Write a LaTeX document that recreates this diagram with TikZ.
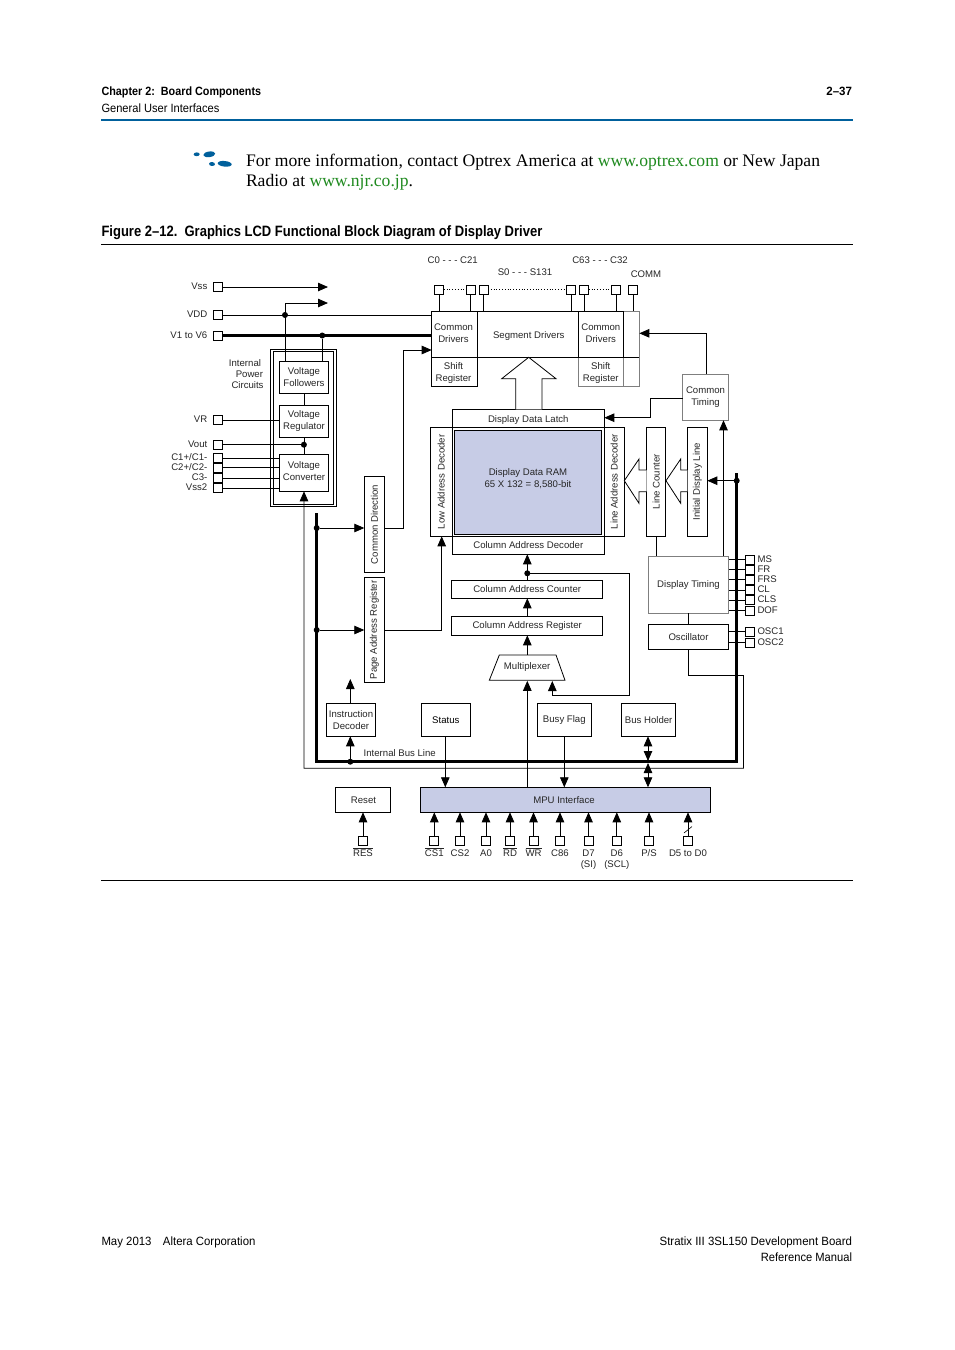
\documentclass[tikz,border=0pt]{standalone}
\usepackage{fontspec}
\setmainfont{Liberation Sans}
\newfontfamily\bodyfont{Liberation Serif}
\usetikzlibrary{arrows.meta,calc}
\definecolor{ink}{HTML}{262626}
\definecolor{ramblue}{HTML}{C7CCE6}
\definecolor{headblue}{HTML}{00609C}
\definecolor{linkgreen}{HTML}{1F8A1F}
\definecolor{edgegray}{HTML}{7F7F7F}
\tikzset{
 lcdbox/.style={draw=black,line width=.8pt,inner sep=0pt,outer sep=0pt,align=center,text=ink,font=\fontsize{9.6}{12}\selectfont},
 pinbox/.style={draw=black,line width=.8pt,fill=white,minimum size=9pt,inner sep=0pt,outer sep=0pt},
 wire/.style={line width=.8pt,draw=black},
 arr/.style={wire,-{Triangle[length=10pt,width=8.5pt]}},
 arrboth/.style={wire,{Triangle[length=10pt,width=8.5pt]}-{Triangle[length=10pt,width=8.5pt]}},
 bus/.style={line width=3pt,draw=black,line join=miter},
 jdot/.style={circle,fill=black,minimum size=6pt,inner sep=0pt,outer sep=0pt},
 lbl/.style={inner sep=0pt,outer sep=0pt,text=ink,font=\fontsize{9.6}{11.6}\selectfont,align=center},
 hollow/.style={draw=black,line width=.8pt,fill=white,line join=miter},
 hdr/.style={inner sep=0pt,outer sep=0pt,text=black},
}
\newcommand\bx[7][]{%
 \pgfmathsetmacro\myw{#5-#3}\pgfmathsetmacro\myh{#6-#4}%
 \pgfmathsetmacro\mycx{(#5+#3)/2}\pgfmathsetmacro\mycy{(#6+#4)/2}%
 \node[lcdbox,minimum width=\myw pt,minimum height=\myh pt,#1] (#2) at (\mycx,\mycy) {#7};}
\newcommand\vt[1]{\rotatebox{90}{#1}}
\newcommand\ol[1]{$\overline{\mbox{#1}}$}
% text lowered (or, with a negative amount, raised) without changing its box
\newcommand\dn[2]{\raisebox{-#1pt}[\height][\depth]{#2}}
\newcommand\dl[3]{\raisebox{-#1pt}[\height][\depth]{\begin{tabular}{@{}c@{}}#2\\#3\end{tabular}}}
\begin{document}
\begin{tikzpicture}[x=1pt,y=-1pt]
\useasboundingbox (0,0) rectangle (954,1350);
\fill[white] (0,0) rectangle (954,1350);
% page furniture
\node[hdr,anchor=base west] (hChap) at (101.5,95) {\fontsize{12}{14}\selectfont\bfseries\scalebox{.9}[1]{Chapter 2:\ \ Board Components}};
\node[hdr,anchor=base west] (hGen) at (101.5,112) {\fontsize{12}{14}\selectfont\scalebox{.925}[1]{General User Interfaces}};
\node[hdr,anchor=base east] (hPage) at (852,95) {\fontsize{12}{14}\selectfont\bfseries\scalebox{.96}[1]{2--37}};
\draw[headblue,line width=2pt] (101,120) -- (853,120);
\foreach \x/\y/\rx/\ry/\a in {196.7/154.3/3/1.9/0,209.3/154.3/6/2.8/8,212/164/3/2/-5,224.7/163.8/7/2.8/-6}
  \fill[headblue,rotate around={\a:(\x,\y)}] (\x,\y) ellipse ({\rx} and {\ry});
\node[hdr,anchor=base west] (bodyA) at (246,166) {\bodyfont\fontsize{17.6}{20}\selectfont For more information, contact Optrex America at \textcolor{linkgreen}{www.optrex.com} or New Japan};
\node[hdr,anchor=base west] (bodyB) at (246,186) {\bodyfont\fontsize{17.6}{20}\selectfont Radio at \textcolor{linkgreen}{www.njr.co.jp}.};
\node[hdr,anchor=base west] (figT) at (101.5,236) {\fontsize{15}{18}\selectfont\bfseries\scalebox{.867}[1]{Figure 2--12.\ \ Graphics LCD Functional Block Diagram of Display Driver}};
\draw[black,line width=.8pt] (101,244.5) -- (853,244.5);
\draw[black,line width=.8pt] (101,880.5) -- (853,880.5);
\node[hdr,anchor=base west] (fL) at (101.5,1245) {\fontsize{12}{14}\selectfont\scalebox{.95}[1]{May 2013\quad Altera Corporation}};
\node[hdr,anchor=base east] (fR1) at (852,1245) {\fontsize{12}{14}\selectfont\scalebox{.955}[1]{Stratix III 3SL150 Development Board}};
\node[hdr,anchor=base east] (fR2) at (852,1261) {\fontsize{12}{14}\selectfont\scalebox{.93}[1]{Reference Manual}};

% power block
\bx{pwrOuter}{270.3}{349}{336.7}{506.7}{}
\bx{pwrInner}{273.3}{351.3}{333.7}{504.7}{}
\bx{vf}{279.3}{361}{328.7}{393.7}{Voltage\\Followers}
\bx{vreg}{279.3}{405.3}{328.7}{437.3}{\dl{0}{Voltage}{Regulator}}
\bx{vc}{279.3}{454.3}{328.7}{491.3}{\dl{-1}{Voltage}{Converter}}
% drivers
\bx{cdL}{431.7}{311.3}{477.3}{357.3}{\hspace*{-2pt}\dl{0}{Common}{Drivers}}
\bx{srL}{431.7}{357.3}{477.3}{386.3}{\hspace*{-2pt}\dl{1}{Shift}{Register}}
\bx{seg}{477.3}{311.3}{578.3}{357.3}{\hspace*{2pt}\dn{1.5}{Segment Drivers}}
\bx[draw=edgegray]{srR}{578.3}{357.3}{623.3}{386.3}{\dl{1}{Shift}{Register}}
\bx[draw=edgegray]{extTop}{623.3}{311.3}{639.3}{357.3}{}
\bx[draw=edgegray]{extBot}{623.3}{357.3}{639.3}{386.3}{}
\bx{cdR}{578.3}{311.3}{623.3}{357.3}{\dl{0}{Common}{Drivers}}
% memory
\bx{latch}{452.3}{409.3}{604.3}{427.3}{\dn{1.5}{Display Data Latch}}
\bx{lowDec}{430.3}{427.3}{452.3}{536.3}{\vt{Low Address Decoder}}
\bx{lineDec}{604.3}{427.3}{624.3}{536.3}{\vt{Line Address Decoder}}
\bx[fill=ramblue]{ram}{454.3}{430.3}{601.7}{534.3}{\dl{-3}{Display Data RAM}{65 X 132 = 8,580-bit}}
\bx{colDec}{452.3}{536.3}{604.3}{554.3}{Column Address Decoder}
\bx{lineCnt}{646.7}{427.3}{665.7}{536.3}{\vt{Line Counter}}
\bx{initLine}{687.3}{427.3}{707.3}{536.3}{\vt{Initial Display Line}}
\bx[draw=edgegray,line width=1pt]{cTim}{682.7}{374}{728.3}{420.3}{Common\\Timing}
\bx[draw=edgegray,line width=1pt]{dTim}{648.3}{556}{728.7}{613.3}{Display Timing}
\bx{osc}{648.3}{624.3}{728.7}{649.3}{Oscillator}
\bx{comDir}{364.3}{476.3}{384.7}{572.7}{\vt{Common Direction}}
\bx{pageReg}{364.3}{577.3}{384.7}{682.3}{\vt{Page Address Register}}
\bx{colCnt}{451.7}{580.3}{602.7}{598.3}{Column Address Counter}
\bx{colReg}{451.7}{616.3}{602.7}{635.3}{Column Address Register}
\node[lcdbox,draw=none] (mux) at (527.2,667) {Multiplexer};
\draw[wire] (499.3,655) -- (556,655) -- (565,680.3) -- (489.3,680.3) -- cycle;
\bx{instr}{326.3}{703.3}{375.7}{736.3}{Instruction\\Decoder}
\bx[text=black]{status}{421.3}{703.3}{470.3}{736.3}{Status}
\bx{busy}{537.3}{703.3}{591.3}{736.3}{Busy Flag}
\bx{holder}{621.7}{703.3}{675.7}{736.3}{Bus Holder}
\bx[fill=ramblue]{mpu}{420.7}{787.3}{710.3}{812.3}{\hspace*{-3pt}MPU Interface}
\bx{reset}{335.3}{787.3}{390.7}{812.3}{\hspace*{1pt}Reset}
\draw[wire] (cdR.south west) -- (extTop.south east);
\draw[line width=1.4pt] (colDec.north east) -- (colDec.south east) -- (colDec.south west);

% left pins
\foreach \n/\y in {pVss/287,pVdd/315,pV16/335.5,pVR/420,pVout/444.7,pC1/458,pC2/467.7,pC3/478.3,pVs2/488}
  \node[pinbox] (\n) at (218,\y) {};
\coordinate (jVddTop) at (285,303);
\coordinate (aVssEnd) at (328,287);
\coordinate (aTopEnd) at (328,303);
\draw[arr] (pVss.east) -- (aVssEnd);
\draw[wire] (pVdd.east) -- (pVdd.east -| cdL.west);
\node[jdot] (jVdd) at (285,315) {};
\draw[arr] (vf.north -| jVdd) -- (jVddTop) -- (aTopEnd);
\draw[bus] (pV16.east) -- (pV16.east -| cdL.west);
\node[jdot] (jV16) at (322.3,335.5) {};
\draw[wire] (jV16) -- (jV16 |- vf.north);
\draw[wire] (pVR.east) -- (pVR.east -| vreg.west);
\draw[wire] (vf.south) -- (vreg.north);
\draw[wire] (vreg.south) -- (vc.north);
\node[jdot] (jVout) at (303.9,444.7) {};
\draw[wire] (pVout.east) -- (jVout);
\draw[wire] (pC1.east) -- (pC1.east -| vc.west);
\draw[wire] (pC2.east) -- (pC2.east -| vc.west);
\draw[wire] (pC3.east) -- (pC3.east -| vc.west);
\draw[wire] (pVs2.east) -- (pVs2.east -| vc.west);
% left labels
\node[lbl,anchor=east] (lVss) at (207.3,286) {Vss};
\node[lbl,anchor=east] (lVdd) at (207.3,314) {VDD};
\node[lbl,anchor=east] (lV16) at (207.3,335) {V1 to V6};
\node[lbl,anchor=east] (lVR) at (207.3,419) {VR};
\node[lbl,anchor=east] (lVout) at (207.3,444) {Vout};
\node[lbl,anchor=east] (lC1) at (207.3,456.7) {C1+/C1-};
\node[lbl,anchor=east] (lC2) at (207.3,466.7) {C2+/C2-};
\node[lbl,anchor=east] (lC3) at (207.3,477) {C3-};
\node[lbl,anchor=east] (lVs2) at (207.3,487) {Vss2};
\node[lbl,anchor=east] (lInt) at (261,363) {Internal};
\node[lbl,anchor=east] (lPow) at (263,374) {Power};
\node[lbl,anchor=east] (lCir) at (263.5,385) {Circuits};

% top pins
\foreach \n/\x in {tA/439.2,tB/470.8,tC/483.5,tD/571.2,tE/584.3,tF/616.2,tG/633}
  \node[pinbox] (\n) at (\x,289.7) {};
\draw[wire] (tA.south) -- (tA.south |- cdL.north);
\draw[wire] (tB.south) -- (tB.south |- cdL.north);
\draw[wire] (tC.south) -- (tC.south |- seg.north);
\draw[wire] (tD.south) -- (tD.south |- seg.north);
\draw[wire] (tE.south) -- (tE.south |- cdR.north);
\draw[wire] (tF.south) -- (tF.south |- cdR.north);
\draw[wire] (tG.south) -- (tG.south |- extTop.north);
\draw[wire,dotted] (tA.east) -- (tB.west);
\draw[wire,dotted] (tC.east) -- (tD.west);
\draw[wire,dotted] (tE.east) -- (tF.west);
\node[lbl] (lC0) at (452.7,260) {C0 - - - C21};
\node[lbl] (lS0) at (525,272) {S0 - - - S131};
\node[lbl] (lC63) at (600,260) {C63 - - - C32};
\node[lbl] (lComm) at (646,274) {COMM};

% hollow arrows
\draw[hollow] (515.7,409.3) -- (515.7,378.7) -- (501.7,378.7) -- (528.7,357.3) -- (556,378.7) -- (542,378.7) -- (542,409.3);
\draw[hollow] (646.7,470) -- (639,470) -- (639,459) -- (624.3,480.7) -- (639,503.3) -- (639,491.7) -- (646.7,491.7);
\draw[hollow] (687.3,470) -- (680.7,470) -- (680.7,459) -- (666,480.7) -- (680.7,503.3) -- (680.7,491.7) -- (687.3,491.7);

% timing
\coordinate (ctUp) at (706.7,333.3);
\coordinate (ctKnee1) at (650.7,398.3);
\coordinate (ctKnee2) at (650.7,417.7);
\draw[arr] (ctUp |- cTim.north) -- (ctUp) -- (ctUp -| extTop.east);
\draw[arr] (cTim.west |- ctKnee1) -- (ctKnee1) -- (ctKnee2) -- (ctKnee2 -| latch.east);
\coordinate (dtUp) at (723.5,556);
\draw[arr] (dtUp) -- (dtUp |- cTim.south);
\draw[wire] (lineCnt.south -| 656.3,0) -- (dTim.north -| 656.3,0);
\draw[wire] (dTim.south) -- (osc.north);

% bus and power return
\coordinate (retA) at (743.5,675.5);
\coordinate (retB) at (743.5,768.3);
\coordinate (retC) at (303.9,768.3);
\draw[arr] (osc.south) -- (osc.south |- retA) -- (retA) -- (retB) -- (retC) -- (vc.south);
\coordinate (busA) at (316.7,513);
\coordinate (busB) at (316.7,761.7);
\coordinate (busC) at (736.7,761.7);
\coordinate (busD) at (736.7,472.5);
\draw[bus] (busA) -- (busB) -- (busC) -- (busD);
\node[jdot] (jCom) at (316.7,528) {};
\node[jdot] (jPage) at (316.7,630) {};
\node[jdot] (jInstr) at (350.3,761.7) {};
\node[jdot] (jInit) at (736.7,480.7) {};
\draw[arr] (jCom) -- (jCom -| comDir.west);
\draw[arr] (jPage) -- (jPage -| pageReg.west);
\draw[arr] (jInit) -- (jInit -| initLine.east);
\coordinate (cdOut) at (403.7,528);
\coordinate (cdUp) at (403.7,350);
\draw[arr] (comDir.east |- cdOut) -- (cdOut) -- (cdUp) -- (cdUp -| cdL.west);
\coordinate (prOut) at (441.7,630);
\draw[arr] (pageReg.east |- prOut) -- (prOut) -- (prOut |- lowDec.south);
\node[lbl,anchor=west] (lBus) at (363.7,752.7) {Internal Bus Line};
\draw[arr] (jInstr) -- (jInstr |- instr.south);
\coordinate (instrTip) at (350.3,679);
\draw[arr] (instr.north -| instrTip) -- (instrTip);

% column path
\coordinate (muxTop) at (527.3,655);
\coordinate (muxBot) at (527.3,680.8);
\coordinate (muxTipR) at (552.3,681);
\node[jdot] (jCol) at (527.3,573.3) {};
\coordinate (loopA) at (629.7,573.3);
\coordinate (loopB) at (629.7,695);
\coordinate (loopC) at (552.3,695);
\draw[arr] (muxTop) -- (muxTop |- colReg.south);
\draw[arr] (colReg.north -| muxTop) -- (muxTop |- colCnt.south);
\draw[arr] (colCnt.north -| muxTop) -- (muxTop |- colDec.south);
\draw[arr] (jCol) -- (loopA) -- (loopB) -- (loopC) -- (muxTipR);
\draw[arr] (mpu.north -| muxBot) -- (muxBot);
\draw[arr] (status.south -| 445.3,0) -- (mpu.north -| 445.3,0);
\draw[arr] (busy.south -| 564.3,0) -- (mpu.north -| 564.3,0);
\coordinate (hBusU) at (648,761);
\coordinate (hBusL) at (648,763);
\draw[arrboth] (holder.south -| hBusU) -- (hBusU);
\draw[arrboth] (hBusL) -- (mpu.north -| hBusL);

% right pins
\foreach \n/\y/\t in {rMS/559.7/MS,rFR/569.5/FR,rFRS/579.7/FRS,rCL/590/CL,rCLS/600/CLS,rDOF/610.8/DOF,rOS1/631.8/OSC1,rOS2/642.8/OSC2}{
  \node[pinbox] (\n) at (750.2,\y) {};
  \node[lbl,anchor=west] (l\n) at (757.5,\y-.7) {\t};
}
\foreach \n in {rMS,rFR,rFRS,rCL,rCLS,rDOF}
  \draw[wire] (\n.west) -- (\n.west -| dTim.east);
\foreach \n in {rOS1,rOS2}
  \draw[wire] (\n.west) -- (\n.west -| osc.east);

% bottom pins
\foreach \n/\x/\t in {bRES/363/\ol{RES},bCS1/434.3/\ol{CS1},bCS2/460/CS2,bA0/486/A0,bRD/510/\ol{RD},bWR/533.5/\ol{WR},bC86/560/C86,bD7/588.5/D7,bD6/616.8/D6,bPS/649/{P/S},bD5/688/D5 to D0}{
  \node[pinbox] (\n) at (\x,841) {};
  \node[lbl,anchor=base] (l\n) at (\x,856.2) {\t};
}
\node[lbl,anchor=base] (lSI) at (588.5,867.8) {(SI)};
\node[lbl,anchor=base] (lSCL) at (616.8,867.8) {(SCL)};
\draw[arr] (bRES.north) -- (bRES.north |- reset.south);
\foreach \n in {bCS1,bCS2,bA0,bRD,bWR,bC86,bD7,bD6,bPS,bD5}
  \draw[arr] (\n.north) -- (\n.north |- mpu.south);
\draw[wire,line width=.6pt] ($(bD5.north)+(-4,-3.5)$) -- ($(bD5.north)+(4,-10)$);
\end{tikzpicture}
\end{document}
